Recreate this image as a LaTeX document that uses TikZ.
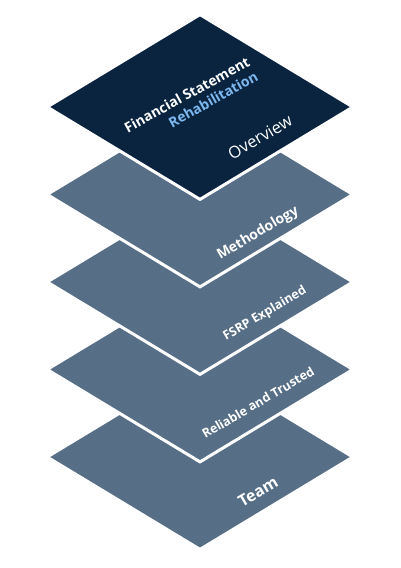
\documentclass[tikz,border=0pt]{standalone}
\usepackage{fontspec}
\setmainfont{Open Sans}
\usetikzlibrary{positioning,shapes.geometric}

\definecolor{navy}{HTML}{0A2440}
\definecolor{slate}{HTML}{566E86}
\definecolor{skyblue}{HTML}{7DB8F0}

\begin{document}
\begin{tikzpicture}[%
	    x=1pt,y=1pt,
	    node distance=87.5pt,
	    on grid,
	    layer/.style={diamond, shape aspect=1.66, minimum width=307pt,
	      minimum height=186pt, inner sep=0pt, fill=slate, draw=white,
	      line width=3pt},
	    top/.style={layer, fill=navy},
	    lbl/.style={text=white, rotate=30.5, font=\bfseries\fontsize{12.5}{14}\selectfont}
	  ]

	  \useasboundingbox (0,0) rectangle (400,568);

	  % layers, bottom first
	  \node[layer] (team) at (200,111) {};
	  \node[layer] (reliable) [above=of team] {};
	  \node[layer] (fsrp) [above=of reliable] {};
	  \node[layer] (method) [above=of fsrp] {};
	  \node[top] (overview) [above=of method] {};

	  % labels
	  \node[lbl, font=\bfseries\fontsize{16}{18}\selectfont] (teamtxt) at ([shift={(58,-35)}]team.center) {Team};
	  \node[lbl] (reliabletxt) at ([shift={(58,-33)}]reliable.center) {Reliable and Trusted};
	  \node[lbl, font=\bfseries\fontsize{12.5}{14}\selectfont] (fsrptxt) at ([shift={(65,-32)}]fsrp.center) {FSRP Explained};
	  \node[lbl, font=\bfseries\fontsize{14}{16}\selectfont] (methodtxt) at ([shift={(58,-39)}]method.center) {Methodology};
	  \node[lbl, font=\fontsize{16.5}{18}\selectfont] (overviewtxt) at ([shift={(60,-30)}]overview.center) {Overview};
	  \node[lbl, rotate=-1.5, align=right, font=\bfseries\fontsize{14}{17}\selectfont] (title) at ([shift={(-9,5)}]overview.center)
	    {Financial Statement\\\textcolor{skyblue}{Rehabilitation}};

\end{tikzpicture}
\end{document}
